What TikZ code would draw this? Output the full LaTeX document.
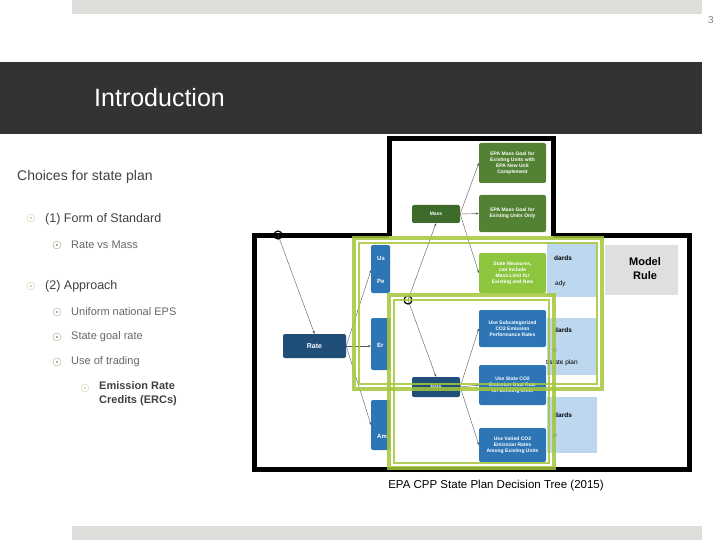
\documentclass[tikz,border=0pt]{standalone}
\usepackage{fontspec}
\setmainfont{Liberation Sans}
\usetikzlibrary{arrows.meta}
\definecolor{bandc}{HTML}{333333}
\definecolor{barc}{HTML}{DDDDDA}
\definecolor{txt}{HTML}{404040}
\definecolor{bul1}{HTML}{9BBB59}
\definecolor{bul2}{HTML}{4F6228}
\definecolor{dgreen}{HTML}{3D6B2A}
\definecolor{mgreen}{HTML}{548235}
\definecolor{lgreen}{HTML}{8CC63F}
\definecolor{dblue}{HTML}{1F4E79}
\definecolor{mblue}{HTML}{2E75B6}
\definecolor{lblue}{HTML}{BDD7EE}
\definecolor{frameg}{HTML}{A4C639}
\begin{document}
\begin{tikzpicture}[x=1pt,y=-1pt,
  box/.style={rounded corners=2pt,inner sep=0pt,text=white,font=\fontsize{5}{6}\selectfont\bfseries,align=center},
  arr/.style={-{Stealth[length=3pt]},gray!70!black,line width=0.4pt},
  b1/.style={text=bul1,font=\fontsize{12}{12}\selectfont},
  b2/.style={text=bul2,font=\fontsize{12}{12}\selectfont},
  lab/.style={anchor=west,text=txt,inner sep=0pt}]
\useasboundingbox (0,0) rectangle (720,540);
\fill[barc] (72,0) rectangle (702,14);
\fill[barc] (72,526) rectangle (702,540);
\node[text=gray,font=\fontsize{10}{10}\selectfont] (pg) at (711,20) {3};
\fill[bandc] (0,62) rectangle (702,134);
\node[anchor=west,text=white,font=\fontsize{25}{25}\selectfont,inner sep=0pt] (title) at (94,98) {Introduction};
% left text
\node[lab,font=\fontsize{14}{14}\selectfont] (h) at (17,177) {Choices for state plan};
\node[b1] (u1) at (31,219) {$\odot$};
\node[lab,font=\fontsize{12.5}{12.5}\selectfont] (t1) at (45,219) {(1) Form of Standard};
\node[b2] (u2) at (57,245) {$\odot$};
\node[lab,font=\fontsize{11}{11}\selectfont,text=gray!80!black] (t2) at (71,245) {Rate vs Mass};
\node[b1] (u3) at (31,286) {$\odot$};
\node[lab,font=\fontsize{12.5}{12.5}\selectfont] (t3) at (45,286) {(2) Approach};
\node[b2] (u4) at (57,312) {$\odot$};
\node[lab,font=\fontsize{11}{11}\selectfont,text=gray!80!black] (t4) at (71,312) {Uniform national EPS};
\node[b2] (u5) at (57,337) {$\odot$};
\node[lab,font=\fontsize{11}{11}\selectfont,text=gray!80!black] (t5) at (71,337) {State goal rate};
\node[b2] (u6) at (57,362) {$\odot$};
\node[lab,font=\fontsize{11}{11}\selectfont,text=gray!80!black] (t6) at (71,362) {Use of trading};
\node[b1] (u7) at (85,388) {$\odot$};
\node[lab,font=\fontsize{11}{14}\selectfont\bfseries,align=left,anchor=north west] (t7) at (99,381) {Emission Rate\\Credits (ERCs)};
% figure frames
\fill[white] (254,233) rectangle (690,470);
\draw[line width=5pt] (254,235) rectangle (689,469);
\fill[white] (389,139) rectangle (553,240);
\draw[line width=5pt] (389,139) -- (389,236);
\draw[line width=5pt] (553,139) -- (553,236);
\draw[line width=5pt] (386.5,139) -- (555.5,139);
% light blue boxes
\fill[lblue] (547,243) rectangle (597,297);
\fill[lblue] (547,318) rectangle (597,375);
\fill[lblue] (547,397) rectangle (597,453);
\node[anchor=west,font=\fontsize{6.5}{7}\selectfont\bfseries,inner sep=0pt] (d1) at (554,258) {dards};
\node[anchor=west,font=\fontsize{6.5}{7}\selectfont,inner sep=0pt] (d2) at (555,284) {ady};
\node[anchor=west,font=\fontsize{6.5}{7}\selectfont\bfseries,inner sep=0pt] (d3) at (554,330) {dards};
\node[anchor=west,font=\fontsize{6.5}{7}\selectfont,inner sep=0pt] (d4) at (553,351) {e};
\node[anchor=west,font=\fontsize{6.5}{7}\selectfont,inner sep=0pt] (d5) at (546,363) {tistate plan};
\node[anchor=west,font=\fontsize{6.5}{7}\selectfont\bfseries,inner sep=0pt] (d6) at (554,415) {dards};
\node[anchor=west,font=\fontsize{6.5}{7}\selectfont,inner sep=0pt] (d7) at (553,436) {e};
\fill[gray!25] (605,245) rectangle (678,295);
\node[font=\fontsize{11}{14}\selectfont\bfseries,align=center] (mr) at (645,269) {Model\\Rule};
% partial left blue boxes
\fill[mblue,rounded corners=2pt] (371,245) rectangle (390,293);
\fill[mblue,rounded corners=2pt] (371,318) rectangle (390,370);
\fill[mblue,rounded corners=2pt] (371,400) rectangle (390,450);
\node[anchor=west,text=white,font=\fontsize{6}{6}\selectfont\bfseries,inner sep=0pt] at (377,258) {Us};
\node[anchor=west,text=white,font=\fontsize{6}{6}\selectfont\bfseries,inner sep=0pt] at (377,281) {Pe};
\node[anchor=west,text=white,font=\fontsize{6}{6}\selectfont\bfseries,inner sep=0pt] at (377,345) {Er};
\node[anchor=west,text=white,font=\fontsize{6}{6}\selectfont\bfseries,inner sep=0pt] at (377,436) {Am};
% boxes
\node[box,fill=dgreen,minimum width=48pt,minimum height=18pt] (mass) at (436,214) {Mass};
\node[box,fill=mgreen,minimum width=67pt,minimum height=40pt] (g1) at (512.5,163) {EPA Mass Goal for\\Existing Units with\\EPA New Unit\\Complement};
\node[box,fill=mgreen,minimum width=67pt,minimum height=37pt] (g2) at (512.5,213.5) {EPA Mass Goal for\\Existing Units Only};
\node[box,fill=lgreen,minimum width=67pt,minimum height=40pt] (g3) at (512.5,273) {State Measures,\\can include\\Mass Limit for\\Existing and New};
\node[box,fill=dblue,minimum width=63pt,minimum height=24pt,font=\fontsize{7}{7}\selectfont\bfseries] (rate) at (314.5,346) {Rate};
\node[box,fill=dblue,minimum width=48pt,minimum height=20pt] (rate2) at (436,387) {Rate};
\node[box,fill=mblue,minimum width=67pt,minimum height=37pt] (bl1) at (512.5,328.5) {Use Subcategorized\\CO2 Emission\\Performance Rates};
\node[box,fill=mblue,minimum width=67pt,minimum height=40pt] (bl2) at (512.5,385) {Use State CO2\\Emission Goal Rate\\for Existing Units};
\node[box,fill=mblue,minimum width=67pt,minimum height=34pt] (bl3) at (512.5,445) {Use Varied CO2\\Emission Rates\\Among Existing Units};
\coordinate (c1) at (278,235);
\coordinate (c2) at (408,300);
\coordinate (p1) at (371,270);
\coordinate (p2) at (371,346);
\coordinate (p3) at (371,425);
% arrows
\draw[arr] (c1) -- (rate.north);
\draw[arr] (rate.east) -- (p1);
\draw[arr] (rate.east) -- (p2);
\draw[arr] (rate.east) -- (p3);
\draw[arr] (c2) -- (rate2.north);
\draw[arr] (c2) -- (mass.south);
\draw[arr] (mass.east) -- (g1.west);
\draw[arr] (mass.east) -- (g2.west);
\draw[arr] (mass.east) -- (g3.west);
\draw[arr] (rate2.east) -- (bl1.west);
\draw[arr] (rate2.east) -- (bl2.west);
\draw[arr] (rate2.east) -- (bl3.west);
\draw[line width=1.2pt] (c1) circle (4);
\draw[line width=1.2pt] (c2) circle (4);
% green frames
\draw[frameg,line width=3.5pt,opacity=0.85] (354,238) rectangle (602,389);
\draw[frameg,line width=1.5pt,opacity=0.85] (359,243) rectangle (597,384);
\draw[frameg,line width=3.5pt,opacity=0.85] (389,295) rectangle (554,468);
\draw[frameg,line width=1.5pt,opacity=0.85] (394,300) rectangle (549,463);
\node[font=\fontsize{11.5}{11.5}\selectfont,text=black] (cap) at (496,486) {EPA CPP State Plan Decision Tree (2015)};
\end{tikzpicture}
\end{document}
